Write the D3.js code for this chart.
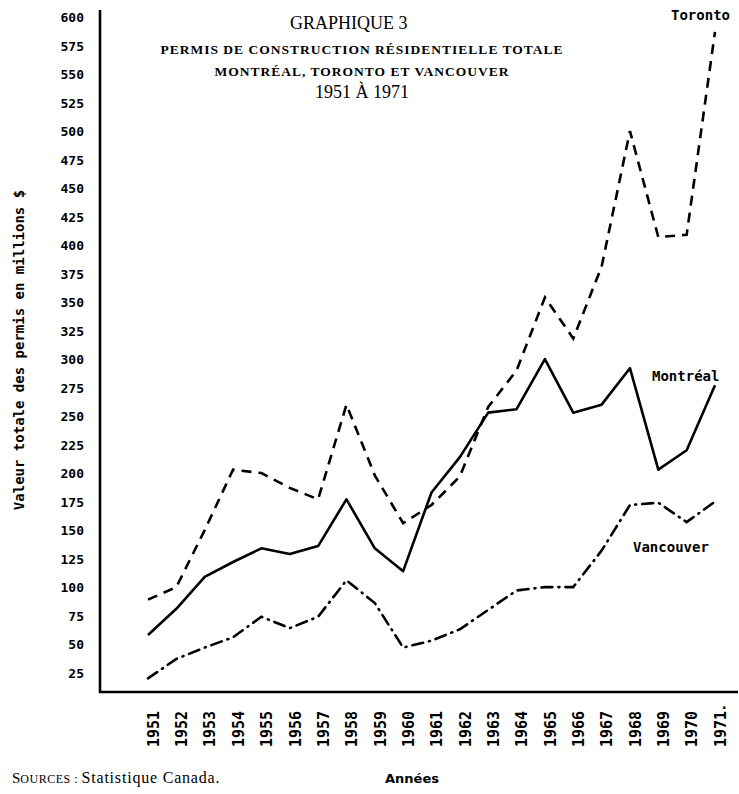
<!DOCTYPE html>
<meta charset="utf-8">
<title>Graphique 3</title>
<style>
  body { margin: 0; background: #fff; }
  text.tick { font-family: "DejaVu Sans Mono", monospace; font-weight: bold; }
  text.title { font-family: "Liberation Serif", serif; text-anchor: middle; }
  text.serie { font-family: "DejaVu Sans Mono", monospace; font-weight: bold; font-size: 14px; }
</style>
<script src="https://cdn.jsdelivr.net/npm/d3@7"></script>
<div id="chart"></div>
<script>
// données (millions $)
var years = [1951,1952,1953,1954,1955,1956,1957,1958,1959,1960,1961,1962,1963,1964,1965,1966,1967,1968,1969,1970,1971];
var toronto   = [89,100,150,203,200,187,177,260,198,156,172,197,258,290,354,318,381,500,407,409,587];
var montreal  = [58,81,109,122,134,129,136,177,134,114,183,214,253,256,300,253,260,292,203,220,277];
var vancouver = [20,37,47,56,74,64,74,106,86,47,53,63,80,97,100,100,132,172,174,157,175];
var yTicks = d3.range(25, 601, 25);

var W = 739, H = 794;
var svg = d3.select("#chart").append("svg")
  .attr("width", W).attr("height", H);

var x = d3.scaleLinear().domain([1951, 1971]).range([148, 715]);
var y = d3.scaleLinear().domain([8, 600]).range([692, 17]);

// cadre
svg.append("line").attr("x1", 100).attr("x2", 100).attr("y1", 10).attr("y2", 693)
  .attr("stroke", "#000").attr("stroke-width", 2.6);
svg.append("line").attr("x1", 99).attr("x2", 738).attr("y1", 692).attr("y2", 692)
  .attr("stroke", "#000").attr("stroke-width", 2.6);

// axe Y
var gy = svg.append("g").attr("transform", "translate(84,0)")
  .call(d3.axisLeft(y).tickValues(yTicks).tickSize(0).tickPadding(0));
gy.select(".domain").remove();
gy.selectAll("text").attr("class", "tick")
  .style("font-size", "13px").attr("dy", "0.35em");

// axe X
var gx = svg.append("g").attr("transform", "translate(5,0)")
  .call(d3.axisBottom(x).tickValues(years).tickSize(0).tickFormat(d3.format("d")));
gx.select(".domain").remove();
gx.selectAll("text").attr("class", "tick")
  .style("font-size", "15px")
  .attr("transform", "rotate(-90)")
  .attr("x", -747).attr("y", 0).attr("dy", "0.35em")
  .attr("text-anchor", "start");
svg.append("text").attr("class", "tick").attr("x", 720).attr("y", 709)
  .style("font-size", "14px").text(".");

// courbes
var line = d3.line()
  .x(function(d, i) { return x(years[i]); })
  .y(function(d) { return y(d); });

svg.append("path").datum(montreal).attr("d", line)
  .attr("fill", "none").attr("stroke", "#000").attr("stroke-width", 2.6)
  .attr("stroke-linejoin", "round");
svg.append("path").datum(toronto).attr("d", line)
  .attr("fill", "none").attr("stroke", "#000").attr("stroke-width", 2.6)
  .attr("stroke-dasharray", "10,7");
svg.append("path").datum(vancouver).attr("d", line)
  .attr("fill", "none").attr("stroke", "#000").attr("stroke-width", 2.6)
  .attr("stroke-linecap", "round")
  .attr("stroke-dasharray", "11,6,1,6");

svg.append("text").attr("class", "serie").attr("x", 671).attr("y", 20).text("Toronto");
svg.append("text").attr("class", "serie").attr("x", 652).attr("y", 381).text("Montréal");
svg.append("text").attr("class", "serie").attr("x", 633).attr("y", 552).text("Vancouver");

// titres
svg.append("text").attr("class", "title").attr("x", 290).attr("y", 29)
  .attr("text-anchor", "start").style("text-anchor", "start")
  .style("font-size", "18px").text("GRAPHIQUE 3");
svg.append("text").attr("class", "title").attr("x", 362).attr("y", 54)
  .style("font-size", "13.5px").style("font-weight", "bold").style("letter-spacing", "1px")
  .text("PERMIS DE CONSTRUCTION RÉSIDENTIELLE TOTALE");
svg.append("text").attr("class", "title").attr("x", 362).attr("y", 76)
  .style("font-size", "13.5px").style("font-weight", "bold").style("letter-spacing", "1px")
  .text("MONTRÉAL, TORONTO ET VANCOUVER");
svg.append("text").attr("class", "title").attr("x", 362).attr("y", 98)
  .style("font-size", "18px").text("1951 À 1971");

// titre axe Y
svg.append("text").attr("class", "tick")
  .attr("transform", "translate(24,350) rotate(-90)")
  .attr("text-anchor", "middle")
  .style("font-size", "14px")
  .text("Valeur totale des permis en millions $");

// pied
var src = svg.append("text").attr("x", 12).attr("y", 783)
  .style("font-family", "Liberation Serif, serif").style("font-size", "16px");
src.append("tspan").style("font-size", "15px").text("S");
src.append("tspan").style("font-size", "12px").style("letter-spacing", "0.5px").text("OURCES : ");
src.append("tspan").style("letter-spacing", "0.8px").text("Statistique Canada.");
svg.append("text").attr("x", 385).attr("y", 783)
  .style("font-family", "DejaVu Sans, sans-serif").style("font-weight", "bold").style("font-size", "13px")
  .text("Années");
</script>
